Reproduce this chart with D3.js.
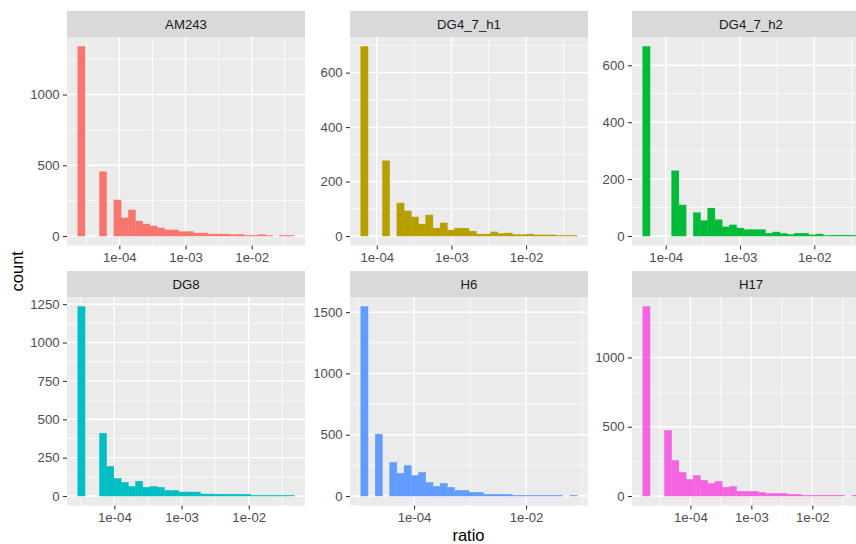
<!DOCTYPE html>
<html>
<head>
<meta charset="utf-8">
<script src="https://cdn.jsdelivr.net/npm/d3@7"></script>
<style>
    body { margin: 0; background: #fff; }
    text { font-family: "Liberation Sans", Arial, Helvetica, sans-serif; }
</style>
</head>
<body>
<script>
// facet names, one histogram per facet (30 bins on log10 ratio)
let facets = ["AM243", "DG4_7_h1", "DG4_7_h2", "DG8", "H6", "H17"];

// outer edges of the binned ratio range for each facet
let ratioMin = [2.36e-5, 6.11e-5, 4.92e-5, 2.86e-5, 1.12e-5, 1.66e-5];
let ratioMax = [0.0438, 0.0484, 0.0402, 0.0475, 0.0818, 0.0587];

// bin counts
let countsAM243 = [1340, 0, 0, 454, 0, 255, 128, 184, 106, 85, 71, 57, 43, 43, 31, 31, 21, 21, 14, 14, 14, 10, 12, 4, 4, 9, 3, 0, 4, 4];
let countsDG4_7_h1 = [696, 0, 0, 276, 0, 121, 92, 70, 44, 77, 29, 48, 22, 29, 29, 18, 7, 7, 15, 9, 11, 5, 5, 7, 4, 4, 4, 2, 2, 2];
let countsDG4_7_h2 = [666, 0, 0, 0, 229, 109, 0, 82, 54, 98, 57, 32, 39, 28, 22, 22, 22, 10, 14, 9, 6, 10, 10, 4, 7, 1, 3, 3, 3, 2];
let countsDG8 = [1235, 0, 0, 409, 193, 115, 89, 63, 96, 57, 63, 57, 37, 37, 26, 26, 26, 13, 13, 12, 12, 12, 12, 12, 4, 4, 4, 4, 4, 4];
let countsH6 = [1546, 0, 505, 0, 274, 185, 250, 168, 193, 111, 79, 103, 71, 46, 46, 30, 30, 14, 14, 14, 14, 5, 5, 5, 5, 5, 5, 5, 0, 5];
let countsH17 = [1368, 0, 0, 474, 257, 171, 120, 149, 113, 91, 106, 63, 70, 34, 34, 34, 26, 19, 19, 19, 12, 12, 5, 5, 5, 5, 5, 5, 0, 5];
let counts = [countsAM243, countsDG4_7_h1, countsDG4_7_h2, countsDG8, countsH6, countsH17];

// tick labels per facet
let xTickLabels = [
    ["1e-04", "1e-03", "1e-02"],
    ["1e-04", "1e-03", "1e-02"],
    ["1e-04", "1e-03", "1e-02"],
    ["1e-04", "1e-03", "1e-02"],
    ["1e-04", "1e-02"],
    ["1e-04", "1e-03", "1e-02"]
];
let yTickLabels = [
    ["0", "500", "1000"],
    ["0", "200", "400", "600"],
    ["0", "200", "400", "600"],
    ["0", "250", "500", "750", "1000", "1250"],
    ["0", "500", "1000", "1500"],
    ["0", "500", "1000"]
];

let fills = ["#F8766D", "#B79F00", "#00BA38", "#00BFC4", "#619CFF", "#F564E3"];

let w = 856,
    h = 544;
let colX = [67, 350, 632],
    rowTop = [37, 297],
    panelW = 238,
    panelH = 208.5,
    stripH = 26;

let svg = d3.select("body")
    .append("svg")
    .attr("width", w)
    .attr("height", h)
    .style("display", "block");

// minor breaks sit halfway between majors (in transformed space)
function minorBreaks(majors, lo, hi) {
    let step = majors.length > 1 ? majors[1] - majors[0] : 1;
    let ext = [majors[0] - step].concat(majors, [majors[majors.length - 1] + step]);
    let out = [];
    for (let i = 0; i < ext.length - 1; i++) {
        let m = (ext[i] + ext[i + 1]) / 2;
        if (m >= lo && m <= hi) out.push(m);
    }
    return out;
}

facets.forEach(function(name, k) {
    let x0 = colX[k % 3],
        y0 = rowTop[Math.floor(k / 3)];

    // x: log scale with 5% expansion of the log range
    let lo = Math.log10(ratioMin[k]),
        hi = Math.log10(ratioMax[k]),
        pad = (hi - lo) * 0.05;
    let x = d3.scaleLog()
        .domain([Math.pow(10, lo - pad), Math.pow(10, hi + pad)])
        .range([x0, x0 + panelW]);

    // y: linear from 0 with 5% expansion
    let maxC = d3.max(counts[k]);
    let y = d3.scaleLinear()
        .domain([-0.05 * maxC, maxC * 1.05])
        .range([y0 + panelH, y0]);

    let g = svg.append("g").attr("class", "panel");

    // strip
    g.append("rect")
        .attr("x", x0)
        .attr("y", y0 - stripH)
        .attr("width", panelW)
        .attr("height", stripH)
        .style("fill", "#D9D9D9");
    g.append("text")
        .attr("x", x0 + panelW / 2)
        .attr("y", y0 - stripH / 2 + 4.7)
        .attr("text-anchor", "middle")
        .style("font-size", "13.2px")
        .style("fill", "#1A1A1A")
        .text(name);

    // panel background
    g.append("rect")
        .attr("x", x0)
        .attr("y", y0)
        .attr("width", panelW)
        .attr("height", panelH)
        .style("fill", "#EBEBEB");

    let xMajor = xTickLabels[k].map(function(s) { return Math.log10(+s); });
    let xMinor = minorBreaks(xMajor, lo - pad, hi + pad);
    let yMajor = yTickLabels[k].map(Number);
    let yMinor = minorBreaks(yMajor, y.domain()[0], y.domain()[1]);

    // grid lines
    g.selectAll(".xminor")
        .data(xMinor)
        .enter()
        .append("line")
        .attr("x1", function(d) { return x(Math.pow(10, d)); })
        .attr("x2", function(d) { return x(Math.pow(10, d)); })
        .attr("y1", y0)
        .attr("y2", y0 + panelH)
        .style("stroke", "#fff")
        .style("stroke-width", 0.7);
    g.selectAll(".yminor")
        .data(yMinor)
        .enter()
        .append("line")
        .attr("x1", x0)
        .attr("x2", x0 + panelW)
        .attr("y1", function(d) { return y(d); })
        .attr("y2", function(d) { return y(d); })
        .style("stroke", "#fff")
        .style("stroke-width", 0.7);
    g.selectAll(".xmajor")
        .data(xMajor)
        .enter()
        .append("line")
        .attr("x1", function(d) { return x(Math.pow(10, d)); })
        .attr("x2", function(d) { return x(Math.pow(10, d)); })
        .attr("y1", y0)
        .attr("y2", y0 + panelH)
        .style("stroke", "#fff")
        .style("stroke-width", 1.4);
    g.selectAll(".ymajor")
        .data(yMajor)
        .enter()
        .append("line")
        .attr("x1", x0)
        .attr("x2", x0 + panelW)
        .attr("y1", function(d) { return y(d); })
        .attr("y2", function(d) { return y(d); })
        .style("stroke", "#fff")
        .style("stroke-width", 1.4);

    // histogram bars, bin edges evenly spaced in log10
    let nb = counts[k].length;
    let bins = counts[k].map(function(c, i) {
        return {
            x0: Math.pow(10, lo + (hi - lo) * i / nb),
            x1: Math.pow(10, lo + (hi - lo) * (i + 1) / nb),
            count: c
        };
    });
    g.selectAll(".bar")
        .data(bins.filter(function(d) { return d.count > 0; }))
        .enter()
        .append("rect")
        .attr("class", "bar")
        .attr("x", function(d) { return x(d.x0); })
        .attr("width", function(d) { return x(d.x1) - x(d.x0); })
        .attr("y", function(d) { return y(d.count); })
        .attr("height", function(d) { return y(0) - y(d.count); })
        .style("fill", fills[k])
        .style("stroke", fills[k])
        .style("stroke-width", 0.4);

    // axes
    let xAxis = d3.axisBottom(x)
        .tickValues(xTickLabels[k].map(Number))
        .tickFormat(function(d, i) { return xTickLabels[k][i]; })
        .tickSize(4.1)
        .tickPadding(3.3);
    let gx = g.append("g")
        .attr("transform", "translate(0," + (y0 + panelH) + ")")
        .call(xAxis);

    let yAxis = d3.axisLeft(y)
        .tickValues(yMajor)
        .tickFormat(function(d, i) { return yTickLabels[k][i]; })
        .tickSize(4.1)
        .tickPadding(3.3);
    let gy = g.append("g")
        .attr("transform", "translate(" + x0 + ",0)")
        .call(yAxis);

    [gx, gy].forEach(function(a) {
        a.attr("font-size", null).attr("font-family", null);
        a.select(".domain").remove();
        a.selectAll(".tick line").style("stroke", "#333333").style("stroke-width", 1.07);
        a.selectAll(".tick text")
            .style("font-size", "13.2px")
            .style("fill", "#4D4D4D");
    });
});

// axis titles
svg.append("text")
    .attr("x", (colX[0] + colX[2] + panelW) / 2)
    .attr("y", 541)
    .attr("text-anchor", "middle")
    .style("font-size", "16.5px")
    .text("ratio");

svg.append("text")
    .attr("transform", "translate(23," + (rowTop[0] + rowTop[1] + panelH) / 2 + ") rotate(-90)")
    .attr("text-anchor", "middle")
    .style("font-size", "16.5px")
    .text("count");
</script>
</body>
</html>
